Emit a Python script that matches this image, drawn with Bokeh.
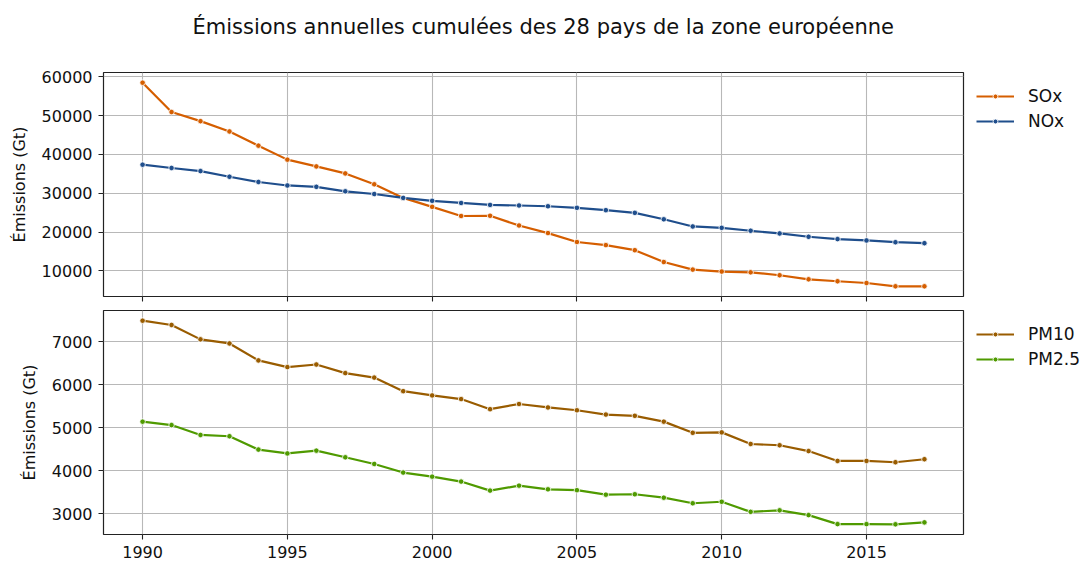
from bokeh.plotting import figure
from bokeh.layouts import column
from bokeh.models import Range1d, FixedTicker, Legend, LegendItem, Title
from bokeh.embed import file_html
from bokeh.resources import INLINE

years = [1990, 1991, 1992, 1993, 1994, 1995, 1996, 1997, 1998, 1999,
         2000, 2001, 2002, 2003, 2004, 2005, 2006, 2007, 2008, 2009,
         2010, 2011, 2012, 2013, 2014, 2015, 2016, 2017]

sox = [58450, 50900, 48550, 45900, 42250, 38650, 36900, 35100, 32300, 28800,
       26500, 24150, 24200, 21700, 19750, 17450, 16650, 15350, 12300, 10350,
       9850, 9650, 8900, 7850, 7350, 6900, 6050, 6050]
nox = [37350, 36500, 35700, 34250, 32900, 32000, 31650, 30500, 29800, 28800,
       28050, 27500, 27000, 26850, 26650, 26250, 25650, 24950, 23300, 21450,
       21100, 20350, 19650, 18800, 18200, 17850, 17400, 17150]
pm10 = [7490, 7390, 7055, 6960, 6565, 6410, 6470, 6270, 6165, 5850,
        5750, 5665, 5430, 5550, 5470, 5405, 5305, 5275, 5140, 4880,
        4890, 4620, 4590, 4455, 4225, 4225, 4195, 4265]
pm25 = [5140, 5060, 4830, 4800, 4490, 4400, 4465, 4310, 4155, 3955,
        3860, 3745, 3535, 3650, 3565, 3545, 3440, 3450, 3370, 3240,
        3275, 3040, 3075, 2965, 2755, 2755, 2750, 2795]

x_ticks = [1990, 1995, 2000, 2005, 2010, 2015]
top_ticks = [10000, 20000, 30000, 40000, 50000, 60000]
bottom_ticks = [3000, 4000, 5000, 6000, 7000]

title_text = "Émissions annuelles cumulées des 28 pays de la zone européenne"
y_label = "Émissions (Gt)"
top_series = [("SOx", sox, "#d55e00"), ("NOx", nox, "#1f4e8c")]
bottom_series = [("PM10", pm10, "#995c00"), ("PM2.5", pm25, "#4f9a00")]

FONT = "DejaVu Sans"
FRAME_W = 860
FRAME_H = 224


def make_fig(series, yticks, top):
    ymin = min(min(s[1]) for s in series)
    ymax = max(max(s[1]) for s in series)
    yr = ymax - ymin
    xr = years[-1] - years[0]
    p = figure(output_backend="svg", toolbar_location=None,
               frame_width=FRAME_W, frame_height=FRAME_H,
               x_range=Range1d(years[0] - 0.05 * xr, years[-1] + 0.05 * xr),
               y_range=Range1d(ymin - 0.05 * yr, ymax + 0.05 * yr),
               min_border_left=103, min_border_right=116,
               min_border_top=72 if top else 7,
               min_border_bottom=7 if top else 28)
    p.background_fill_color = "white"
    p.border_fill_color = "white"
    p.outline_line_color = "#222222"
    p.outline_line_width = 1.2
    if top:
        t = Title(text=title_text + "\n", align="left", offset=89,
                  text_font=FONT, text_font_size="21px",
                  text_font_style="normal", text_color="#111111",
                  standoff=19)
        p.add_layout(t, "above")
    for ax in (p.xaxis[0], p.yaxis[0]):
        ax.axis_line_color = None
        ax.major_tick_in = 0
        ax.major_tick_out = 5
        ax.minor_tick_line_color = None
        ax.major_tick_line_color = "#222222"
        ax.major_tick_line_width = 1.1
        ax.major_label_text_font = FONT
        ax.major_label_text_font_size = "16px"
        ax.major_label_text_color = "#111111"
    p.yaxis.major_label_standoff = 6
    p.xaxis.major_label_standoff = 6
    p.xaxis.ticker = FixedTicker(ticks=x_ticks)
    p.yaxis.ticker = FixedTicker(ticks=yticks)
    if top:
        p.xaxis.major_label_overrides = {t: "" for t in x_ticks}
        p.xaxis.major_label_standoff = 0
    p.yaxis.axis_label = y_label
    p.yaxis.axis_label_text_font = FONT
    p.yaxis.axis_label_text_font_size = "16px"
    p.yaxis.axis_label_text_font_style = "normal"
    p.yaxis.axis_label_text_color = "#111111"
    p.yaxis.axis_label_standoff = 10
    p.grid.grid_line_color = "#b8b8b8"
    p.grid.grid_line_width = 1.1

    items = []
    for name, vals, color in series:
        ln = p.line(years, vals, line_color=color, line_width=2.2)
        sc = p.scatter(years, vals, size=5.5, fill_color=color,
                       line_color="white", line_width=0.8)
        items.append(LegendItem(label=name, renderers=[ln, sc]))
    leg = Legend(items=items, location=(13, FRAME_H - 13 - 47))
    leg.margin = 0
    leg.padding = 0
    leg.spacing = 3
    leg.glyph_width = 38
    leg.glyph_height = 12
    leg.label_height = 22
    leg.label_standoff = 14
    leg.label_text_font = FONT
    leg.label_text_font_size = "17px"
    leg.label_text_color = "#111111"
    leg.border_line_alpha = 0
    leg.background_fill_alpha = 0
    p.add_layout(leg, "right")
    return p


p1 = make_fig(top_series, top_ticks, True)
p2 = make_fig(bottom_series, bottom_ticks, False)

layout = column(p1, p2, spacing=0)
open("out.html", "w").write(file_html(layout, INLINE))
